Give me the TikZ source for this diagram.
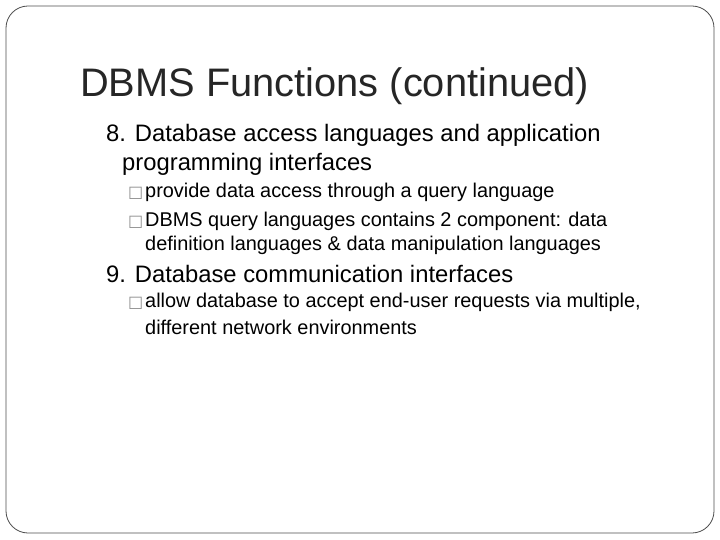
\documentclass[tikz,border=0pt]{standalone}
\usepackage{fontspec}
\setmainfont{Liberation Sans}
\newfontfamily\dv{DejaVu Sans}
\begin{document}
\begin{tikzpicture}[x=1pt,y=-1pt,
  txt/.style={anchor=base west,inner sep=0pt},
  ttl/.style={txt,font=\fontsize{39.8}{44}\selectfont,text=black!85},
  lvone/.style={txt,font=\fontsize{23.8}{28}\selectfont},
  lvtwo/.style={txt,font=\fontsize{19.9}{24}\selectfont},
  bul/.style={txt,font=\dv\fontsize{16}{18}\selectfont,text=black!45}]
\useasboundingbox (0,0) rectangle (720,540);
\draw[black!70,line width=0.8pt,rounded corners=22pt] (6,6) rectangle (714,533);
\node[ttl] (t) at (80,97) {DBMS Functions (continued)};
\node[lvone] (a) at (106,142) {8. Database access languages and application};
\node[lvone] (a2) at (122,171) {programming interfaces};
\node[bul] (b1) at (128,198) {□};
\node[lvtwo] (c1) at (145,198) {provide data access through a query language};
\node[bul] (b2) at (128,226) {□};
\node[lvtwo] (c2) at (145,226) {DBMS query languages contains 2 component: data};
\node[lvtwo] (c3) at (145,251) {definition languages \& data manipulation languages};
\node[lvone] (d) at (106,282) {9. Database communication interfaces};
\node[bul] (b3) at (128,307) {□};
\node[lvtwo] (e1) at (145,307) {allow database to accept end-user requests via multiple,};
\node[lvtwo] (e2) at (145,334) {different network environments};
\end{tikzpicture}
\end{document}
